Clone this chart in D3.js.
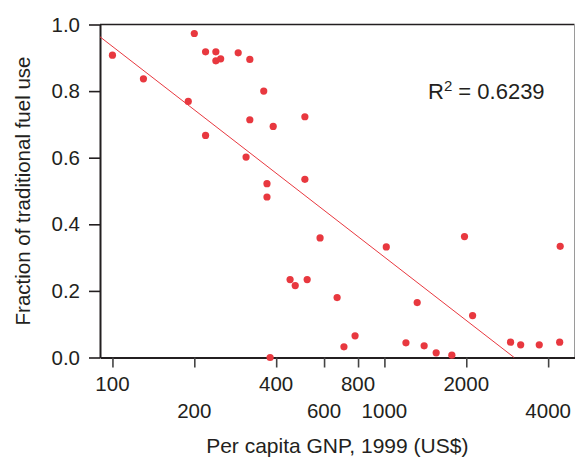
<!DOCTYPE html>
<html>
<head>
<meta charset="utf-8">
<script src="https://cdn.jsdelivr.net/npm/d3@7/dist/d3.min.js"></script>
<style>
  html, body { margin: 0; padding: 0; background: #fff; }
  svg { display: block; }
  text { font-family: "Liberation Sans", Arial, Helvetica, sans-serif; fill: #231f20; }
</style>
</head>
<body>
<svg id="chart" width="575" height="457"></svg>
<script>
// ---- Data ----
const gnp = [100, 130, 190, 200, 220, 220, 240, 240, 250, 290,
             320, 320, 310, 360, 390, 510, 370, 370, 510, 580,
             1016, 450, 470, 520, 670, 780, 710, 380, 1320, 1200,
             1400, 1970, 4430, 2110, 1550, 1770, 2910, 3170, 3710, 4410];
const fuelFraction = [0.908, 0.837, 0.769, 0.973, 0.918, 0.667, 0.918, 0.891, 0.897, 0.915,
                      0.895, 0.714, 0.602, 0.800, 0.694, 0.723, 0.522, 0.482, 0.535, 0.359,
                      0.332, 0.234, 0.216, 0.234, 0.180, 0.065, 0.032, 0.000, 0.165, 0.044,
                      0.035, 0.363, 0.334, 0.126, 0.014, 0.007, 0.046, 0.038, 0.038, 0.046];
const fitX = [90, 3000];
const fitY = [0.963, 0.0];
const xTicksUpper = [100, 400, 800, 2000];
const xTicksLower = [200, 600, 1000, 4000];
const yTicks = [0.0, 0.2, 0.4, 0.6, 0.8, 1.0];
const r2Label = "0.6239";
const xTitle = "Per capita GNP, 1999 (US$)";
const yTitle = "Fraction of traditional fuel use";

(function () {
// ---- Layout ----
const mLeft = 100, mRight = 574.5, mTop = 24.5, mBottom = 357.5;
const svg = d3.select("#chart");
const ink = "#231f20";
const red = "#e8383f";

const x = d3.scaleLog().domain([90, 5000]).range([mLeft, mRight]);
const y = d3.scaleLinear().domain([0, 1]).range([mBottom, mTop]);

// frame: top (dark) and right (light)
svg.append("line").attr("x1", mLeft).attr("x2", mRight).attr("y1", mTop).attr("y2", mTop)
  .attr("stroke", ink).attr("stroke-width", 1.6);
svg.append("line").attr("x1", mRight).attr("x2", mRight).attr("y1", mTop).attr("y2", mBottom)
  .attr("stroke", "#9a9a9a").attr("stroke-width", 1);

// y axis
const yAxis = svg.append("g").attr("transform", `translate(${mLeft},0)`)
  .call(d3.axisLeft(y).tickValues(yTicks).tickFormat(d3.format(".1f"))
        .tickSize(11).tickSizeOuter(0).tickPadding(9));
yAxis.select(".domain").attr("stroke", ink).attr("stroke-width", 2);
yAxis.selectAll(".tick line").attr("stroke", ink).attr("stroke-width", 1.6);
yAxis.selectAll(".tick text").style("font-size", "20.5px").attr("fill", ink)
  .style("font-family", '"Liberation Sans", Arial, sans-serif');

// x axis
const allXTicks = xTicksUpper.concat(xTicksLower).sort((a, b) => a - b);
const xAxis = svg.append("g").attr("transform", `translate(0,${mBottom})`)
  .call(d3.axisBottom(x).tickValues(allXTicks).tickFormat("")
        .tickSize(10).tickSizeOuter(0));
xAxis.select(".domain").attr("stroke", ink).attr("stroke-width", 2);
xAxis.selectAll(".tick line").attr("stroke", "#444").attr("stroke-width", 1.6);

svg.append("g").selectAll("text").data(xTicksUpper).join("text")
  .attr("x", d => x(d)).attr("y", 390.5).attr("text-anchor", "middle")
  .style("font-size", "20.5px").text(d => d);
svg.append("g").selectAll("text").data(xTicksLower).join("text")
  .attr("x", d => x(d)).attr("y", 417.5).attr("text-anchor", "middle")
  .style("font-size", "20.5px").text(d => d);

// axis titles
svg.append("text").attr("x", (mLeft + mRight) / 2).attr("y", 453)
  .attr("text-anchor", "middle").style("font-size", "21px").text(xTitle);
svg.append("text").attr("transform", `translate(30,${(mTop + mBottom) / 2}) rotate(-90)`)
  .attr("text-anchor", "middle").style("font-size", "20.5px").text(yTitle);

// regression line
svg.append("line")
  .attr("x1", x(fitX[0])).attr("y1", y(fitY[0]))
  .attr("x2", x(fitX[1])).attr("y2", y(fitY[1]))
  .attr("stroke", red).attr("stroke-width", 1);

// points
svg.append("g").selectAll("circle").data(gnp.map((g, i) => [g, fuelFraction[i]]))
  .join("circle")
  .attr("cx", d => x(d[0])).attr("cy", d => y(d[1])).attr("r", 3.6)
  .attr("fill", red);

// R^2 label
const r2 = svg.append("text").attr("x", 428).attr("y", 98.5).style("font-size", "22px");
r2.append("tspan").text("R");
r2.append("tspan").attr("dy", -8).style("font-size", "15px").text("2");
r2.append("tspan").attr("dy", 8).text(" = " + r2Label);
})();
</script>
</body>
</html>
